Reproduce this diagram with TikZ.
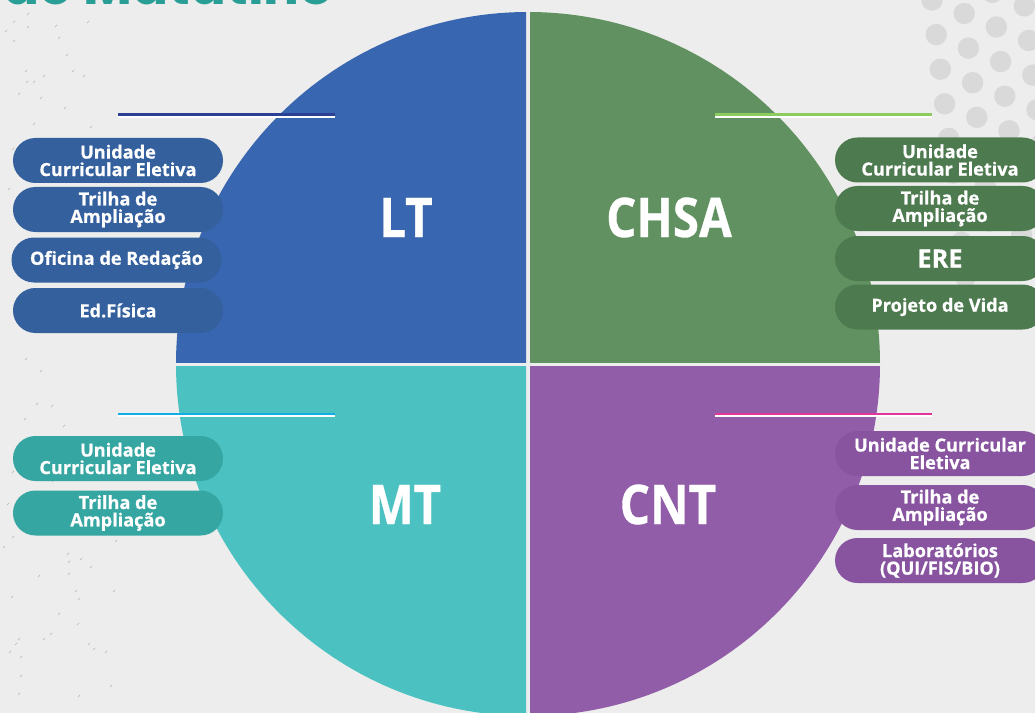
\documentclass[tikz,border=0pt]{standalone}
\usepackage{fontspec}
\setmainfont{Open Sans}
\newfontfamily\pillfont{Open Sans}[FakeBold=0.6]
\newfontfamily\quadfont{Open Sans}[FakeStretch=0.87,FakeBold=0.6]
\newfontfamily\titlefont{Poppins}
\definecolor{bg}{HTML}{ECEDEC}
\definecolor{ltblue}{HTML}{3966B0}
\definecolor{chsagreen}{HTML}{619160}
\definecolor{mtteal}{HTML}{4BC2C1}
\definecolor{cntpurple}{HTML}{925DA8}
\definecolor{ltpill}{HTML}{34609E}
\definecolor{chsapill}{HTML}{4E7A4F}
\definecolor{mtpill}{HTML}{36A6A3}
\definecolor{cntpill}{HTML}{8854A0}
\definecolor{ltline}{HTML}{2B3F94}
\definecolor{chsaline}{HTML}{8CCB5E}
\definecolor{mtline}{HTML}{11AEE6}
\definecolor{cntline}{HTML}{E2379A}
\definecolor{titleteal}{HTML}{289E96}
\definecolor{dotgray}{HTML}{D8D9D8}
\definecolor{speckgray}{HTML}{B4B6B4}
\begin{document}
\begin{tikzpicture}[x=0.75pt,y=-0.75pt]
		\tikzset{pill/.style={rounded corners=16.8pt,minimum width=157.5pt,minimum height=33.75pt,inner sep=0pt,text=white,align=center,font=\pillfont\bfseries\fontsize{13.6}{13.1}\selectfont},
			quadlabel/.style={text=white,anchor=base,font=\quadfont\bfseries\fontsize{41}{41}\selectfont},
			myspeck/.style={draw=speckgray,line width=0.45pt}}
		\useasboundingbox (0,0) rectangle (1035,713);
		\fill[bg] (0,0) rectangle (1035,713); %background
		\node[anchor=base west,inner sep=0pt,text=titleteal,font=\titlefont\bfseries\fontsize{40}{40}\selectfont] (title) at (3,4.5) {de Matutino}; %title
		\foreach \x/\y in {27/15,13/23,5/32,27/28,55/27,87/23,13/42,58/39,66/56,25/72,43/77,72/72,83/77,26/83,33/83,18/95,40/99,64/109,33/125,90/128,
			12/150,35/160,8/190,20/215,15/250,30/290,25/360,40/372,36/405,51/407,24/420,63/427,12/473,52/482,7/505,12/538,3/548,115/542,67/555,68/563,80/560,
			90/568,38/577,68/575,75/592,78/600,11/598,113/592,58/615,77/625,43/640,50/635,18/640,15/645,9/653,88/645,93/650,105/653,20/658,20/677,110/687,78/697,18/695}
			\draw[myspeck] (\x,\y) -- ++(2.2,-2.2); %specks
		\foreach \i/\jmin/\jmax in {0/0/8,1/0/7,2/-1/7,3/-1/6}
			\foreach \j in {\jmin,...,\jmax}
				\fill[dotgray] ({932+32.2*\i+4.2*\j},{13.5*\i+34.6*\j}) circle[radius=10.7]; %dots
		\coordinate (ctr) at (528,364);
		\begin{scope} %quadrants
			\clip (0,0) rectangle (526,362);
			\fill[ltblue] (ctr) circle[radius=352];
		\end{scope}
		\begin{scope}
			\clip (530,0) rectangle (1035,362);
			\fill[chsagreen] (ctr) circle[radius=352];
		\end{scope}
		\begin{scope}
			\clip (0,366) rectangle (526,713);
			\fill[mtteal] (ctr) circle[radius=352];
		\end{scope}
		\begin{scope}
			\clip (530,366) rectangle (1035,713);
			\fill[cntpurple] (ctr) circle[radius=352];
		\end{scope}
		\node[quadlabel] (LT) at (406,237) {LT};
		\node[quadlabel] (CHSA) at (669,237) {CHSA};
		\node[quadlabel] (MT) at (405,524) {MT};
		\node[quadlabel] (CNT) at (668,524) {CNT};
		\coordinate (LTa) at (118,114.7); \coordinate (LTb) at (335,114.7); %lines
		\coordinate (CHSAa) at (715,114.5); \coordinate (CHSAb) at (932,114.5);
		\coordinate (MTa) at (118,413.8); \coordinate (MTb) at (335,413.8);
		\coordinate (CNTa) at (715,413.8); \coordinate (CNTb) at (932,413.8);
		\foreach \a/\b/\c in {LTa/LTb/ltline,CHSAa/CHSAb/chsaline,MTa/MTb/mtline,CNTa/CNTb/cntline}{
			\draw[white,line width=1.4pt] ([yshift=-1.6pt]\a) -- ([yshift=-1.6pt]\b);
			\draw[\c,line width=1.9pt] (\a) -- (\b);
		}
		\node[pill,fill=ltpill] (LT1) at (118,160.5) {Unidade\\Curricular Eletiva}; %pills
		\node[pill,fill=ltpill] (LT2) at (118,209.5) {Trilha de\\Ampliação};
		\node[pill,fill=ltpill] (LT3) at (116.5,260) {Oficina de Redação};
		\node[pill,fill=ltpill] (LT4) at (118,310.5) {Ed.Física};
		\node[pill,fill=chsapill] (CHSA1) at (940,160) {Unidade\\Curricular Eletiva};
		\node[pill,fill=chsapill] (CHSA2) at (940,208.5) {Trilha de\\Ampliação};
		\node[pill,fill=chsapill,font=\pillfont\bfseries\fontsize{19}{19}\selectfont] (CHSA3) at (940,258.5) {ERE};
		\node[pill,fill=chsapill] (CHSA4) at (940,307) {Projeto de Vida};
		\node[pill,fill=mtpill] (MT1) at (118,458.5) {Unidade\\Curricular Eletiva};
		\node[pill,fill=mtpill] (MT2) at (118,513) {Trilha de\\Ampliação};
		\node[pill,fill=cntpill] (CNT1) at (940,453.5) {Unidade Curricular\\Eletiva};
		\node[pill,fill=cntpill] (CNT2) at (940,507.5) {Trilha de\\Ampliação};
		\node[pill,fill=cntpill] (CNT3) at (940,560.5) {Laboratórios\\(QUI/FIS/BIO)};
	\end{tikzpicture}
\end{document}
